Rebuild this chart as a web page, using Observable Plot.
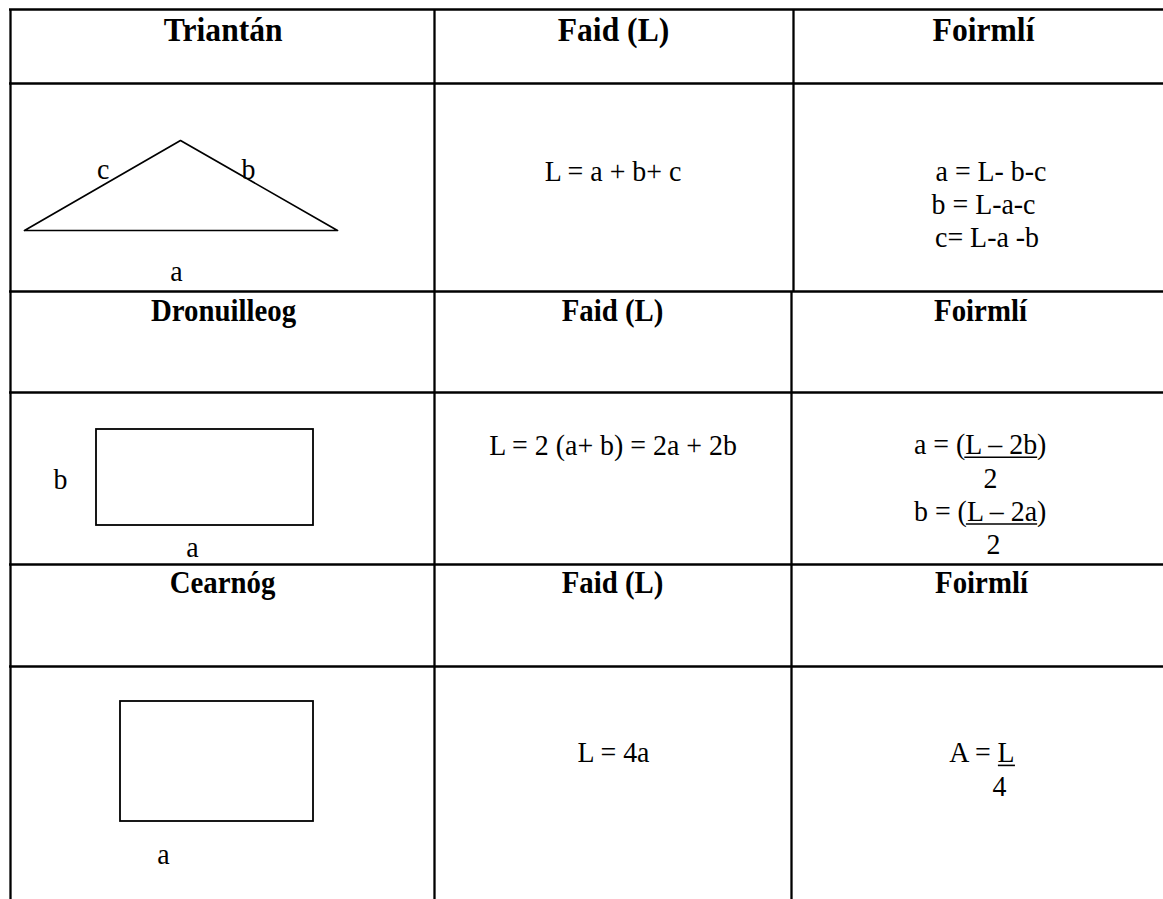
<!DOCTYPE html>
<html>
<head>
<meta charset="utf-8">
<script src="https://cdn.jsdelivr.net/npm/d3@7"></script>
<script src="https://cdn.jsdelivr.net/npm/@observablehq/plot@0.6"></script>
<style>
  html, body { margin: 0; padding: 0; background: #fff; }
  #chart svg { display: block; }
</style>
</head>
<body>
<div id="chart"></div>
<script>
// ---- Content (text only) ----
const shapeNames = ["Triantán", "Dronuilleog", "Cearnóg"];
const perimeterHeader = "Faid (L)";
const formulaHeader = "Foirmlí";
const perimeterFormulas = ["L = a + b+ c", "L = 2 (a+ b) = 2a + 2b", "L = 4a"];
const triangleFormulas = ["a = L- b-c", "b = L-a-c", "c= L-a -b"];
const rectangleFormulas = ["a = (L – 2b)", "2", "b = (L – 2a)", "2"];
const squareFormulas = ["A = L", "4"];
const triangleLabels = ["c", "b", "a"];
const rectangleLabels = ["b", "a"];
const squareLabels = ["a"];
// underlined parts: [formula line, underlined substring, prefix before it]
const underlines = [
  ["a = (L – 2b)", "L – 2b", "a = ("],
  ["b = (L – 2a)", "L – 2a", "b = ("],
  ["A = L", "L", "A = "]
];

// ---- Layout ----
const W = 1163, H = 899;
const FONT = "Liberation Serif";
const SX = 0.93;                     // horizontal text compression
const colX = [10, 434, 793, W];      // column borders
const colX2 = 791;                   // second border in lower rows
const rowY = [9, 83, 291, 392, 564, 666]; // horizontal borders
const headerX = [[222.7, 613, 983], [223, 612, 980], [222, 612, 981]];
const headerBase = [40, 320.7, 592];
const headerSize = [34, 31, 31];
const FS = 30;

const ctx = document.createElement("canvas").getContext("2d");
function tw(s, size = FS, weight = "normal") {
  ctx.font = `${weight} ${size}px "${FONT}"`;
  return ctx.measureText(s).width * SX;
}
const mid = (base, size) => base - 0.32 * size;

// bold headers
const boldText = [];
shapeNames.forEach((s, i) => {
  [s, perimeterHeader, formulaHeader].forEach((t, j) => {
    boldText.push({text: t, x: headerX[i][j], y: mid(headerBase[i], headerSize[i]), size: headerSize[i]});
  });
});

// regular text
const regText = [];
const perimX = [612.5, 612.5, 613], perimBase = [180, 454, 761.7];
perimeterFormulas.forEach((t, i) => regText.push({text: t, x: perimX[i], y: mid(perimBase[i], FS)}));
const triX = [990.5, 983, 986.5], triB = [180, 213.3, 246.7];
triangleFormulas.forEach((t, i) => regText.push({text: t, x: triX[i], y: mid(triB[i], FS)}));
const recX = [979.7, 990, 979.7, 993], recB = [453.5, 487, 520.3, 553.5];
rectangleFormulas.forEach((t, i) => regText.push({text: t, x: recX[i], y: mid(recB[i], FS)}));
const sqX = [981.5, 999], sqB = [761.7, 795];
squareFormulas.forEach((t, i) => regText.push({text: t, x: sqX[i], y: mid(sqB[i], FS)}));
const triLX = [102.8, 248, 176], triLB = [178.3, 178.3, 280];
triangleLabels.forEach((t, i) => regText.push({text: t, x: triLX[i], y: mid(triLB[i], FS)}));
const recLX = [60, 192], recLB = [488.3, 556];
rectangleLabels.forEach((t, i) => regText.push({text: t, x: recLX[i], y: mid(recLB[i], FS)}));
const sqLX = [163], sqLB = [863];
squareLabels.forEach((t, i) => regText.push({text: t, x: sqLX[i], y: mid(sqLB[i], FS)}));

// underline segments computed from text metrics
const ulSegs = underlines.map(([line, sub, pre]) => {
  const item = regText.find(d => d.text === line);
  const base = item.y + 0.32 * FS;
  const start = item.x - tw(line) / 2 + tw(pre);
  return {x1: start, x2: start + tw(sub), y: base + 3.2};
});

// table borders
const hLines = rowY.map(y => ({y, x1: colX[0] - 1, x2: W}));
const vLines = [
  {x: colX[0], y1: rowY[0], y2: H},
  {x: colX[1], y1: rowY[0], y2: H},
  {x: colX[2], y1: rowY[0], y2: rowY[2]},
  {x: colX2, y1: rowY[2], y2: H}
];

// shapes
const triangle = [{x: 24, y: 230}, {x: 180, y: 140}, {x: 337, y: 230}, {x: 24, y: 230}];
const rects = [{x1: 96, x2: 313, y1: 429, y2: 525}, {x1: 120, x2: 313, y1: 701, y2: 821}];

const chart = Plot.plot({
  width: W,
  height: H,
  margin: 0,
  x: {domain: [0, W], range: [0, W], axis: null},
  y: {domain: [0, H], range: [0, H], axis: null},
  style: {background: "#fff"},
  marks: [
    Plot.ruleY(hLines, {y: "y", x1: "x1", x2: "x2", stroke: "#000", strokeWidth: 2.3}),
    Plot.ruleX(vLines, {x: "x", y1: "y1", y2: "y2", stroke: "#000", strokeWidth: 2.3}),
    Plot.line(triangle, {x: "x", y: "y", stroke: "#000", strokeWidth: 1.7, curve: "linear"}),
    Plot.rect(rects, {x1: "x1", x2: "x2", y1: "y1", y2: "y2", fill: "none", stroke: "#000", strokeWidth: 1.8}),
    Plot.ruleY(ulSegs, {y: "y", x1: "x1", x2: "x2", stroke: "#000", strokeWidth: 1.6}),
    Plot.text(boldText, {x: "x", y: "y", text: "text", fontSize: "size", fontWeight: "bold", fontFamily: FONT, fill: "#000", lineAnchor: "middle"}),
    Plot.text(regText, {x: "x", y: "y", text: "text", fontSize: FS, fontFamily: FONT, fill: "#000", lineAnchor: "middle"})
  ]
});

// compress glyphs horizontally around each text anchor (reference type is narrow)
d3.select(chart).selectAll("text").each(function () {
  const t = this.getAttribute("transform");
  if (t && t.includes("translate")) {
    this.setAttribute("transform", t + ` scale(${SX},1)`);
  } else {
    const x = +this.getAttribute("x") || 0, y = +this.getAttribute("y") || 0;
    this.setAttribute("transform", `translate(${x},${y}) scale(${SX},1) translate(${-x},${-y})`);
  }
});
document.getElementById("chart").appendChild(chart);
</script>
</body>
</html>
